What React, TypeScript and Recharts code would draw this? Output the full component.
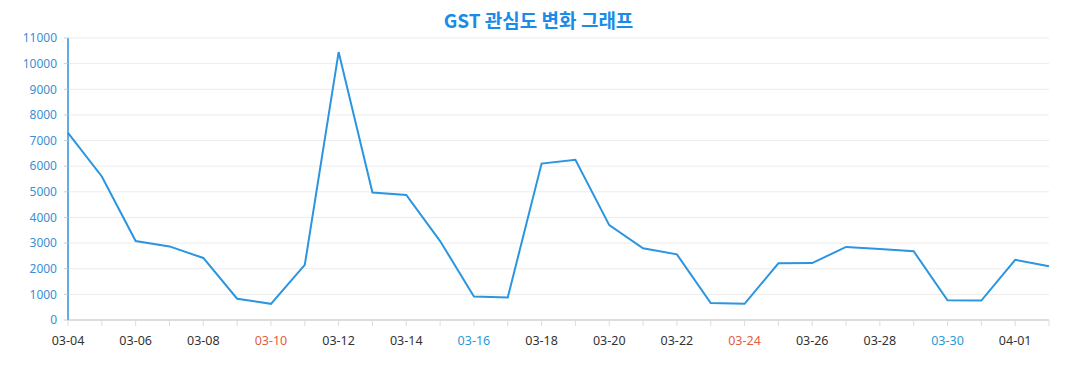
import { LineChart, Line, XAxis, YAxis, CartesianGrid } from "recharts";

const dates = [
  "03-04", "03-05", "03-06", "03-07", "03-08", "03-09", "03-10", "03-11",
  "03-12", "03-13", "03-14", "03-15", "03-16", "03-17", "03-18", "03-19",
  "03-20", "03-21", "03-22", "03-23", "03-24", "03-25", "03-26", "03-27",
  "03-28", "03-29", "03-30", "03-31", "04-01", "04-02",
];

const interest = [
  7300, 5600, 3080, 2870, 2420, 830, 630, 2150,
  10450, 4970, 4880, 3080, 920, 880, 6100, 6250,
  3700, 2800, 2560, 660, 630, 2210, 2220, 2850,
  2770, 2680, 770, 760, 2350, 2100,
];

const yTicks = [0, 1000, 2000, 3000, 4000, 5000, 6000, 7000, 8000, 9000, 10000, 11000];

const redDates = ["03-10", "03-24"];
const blueDates = ["03-16", "03-30"];

const data = dates.map((d, i) => ({ date: d, value: interest[i] }));

function DateTick(props: any) {
  const { x, y, payload, index } = props;
  if (index % 2 !== 0) return null;
  const label = payload.value as string;
  let fill = "#333";
  if (redDates.includes(label)) fill = "#e0603f";
  if (blueDates.includes(label)) fill = "#2a9ad6";
  return (
    <text x={x} y={y + 17} textAnchor="middle" fill={fill} fontSize={12.5} fontFamily="'Noto Sans', sans-serif">
      {label}
    </text>
  );
}

export default function App() {
  return (
    <div style={{ position: "absolute", left: 0, top: 0, width: 1077, height: 390, background: "#fff" }}>
      <div
        style={{
          position: "absolute",
          top: 8,
          width: 1077,
          textAlign: "center",
          fontFamily: "'Noto Sans CJK KR', 'Noto Sans', sans-serif",
          fontWeight: 700,
          fontSize: 19,
          color: "#1a8ce8",
          lineHeight: "24px",
        }}
      >
        GST 관심도 변화 그래프
      </div>
      <LineChart
        width={1077}
        height={390}
        data={data}
        margin={{ top: 38, right: 28, bottom: 30, left: 8 }}
      >
        <CartesianGrid stroke="#ececec" vertical={false} />
        <XAxis
          dataKey="date"
          interval={0}
          tick={<DateTick />}
          tickLine={{ stroke: "#ddd" }}
          axisLine={{ stroke: "#ddd", strokeWidth: 2 }}
          tickSize={6}
          height={40}
          padding={{ left: 0, right: 0 }}
        />
        <YAxis
          domain={[0, 11000]}
          ticks={yTicks}
          interval={0}
          width={60}
          tickSize={4}
          tickMargin={7}
          tickLine={{ stroke: "#ccc" }}
          axisLine={{ stroke: "#2b8fdc", strokeWidth: 1.5 }}
          tick={{ fill: "#3a8fd6", fontSize: 12, fontFamily: "'Noto Sans', sans-serif" }}
        />
        <Line
          type="linear"
          dataKey="value"
          stroke="#2b95e0"
          strokeWidth={2}
          dot={false}
          isAnimationActive={false}
        />
      </LineChart>
    </div>
  );
}
